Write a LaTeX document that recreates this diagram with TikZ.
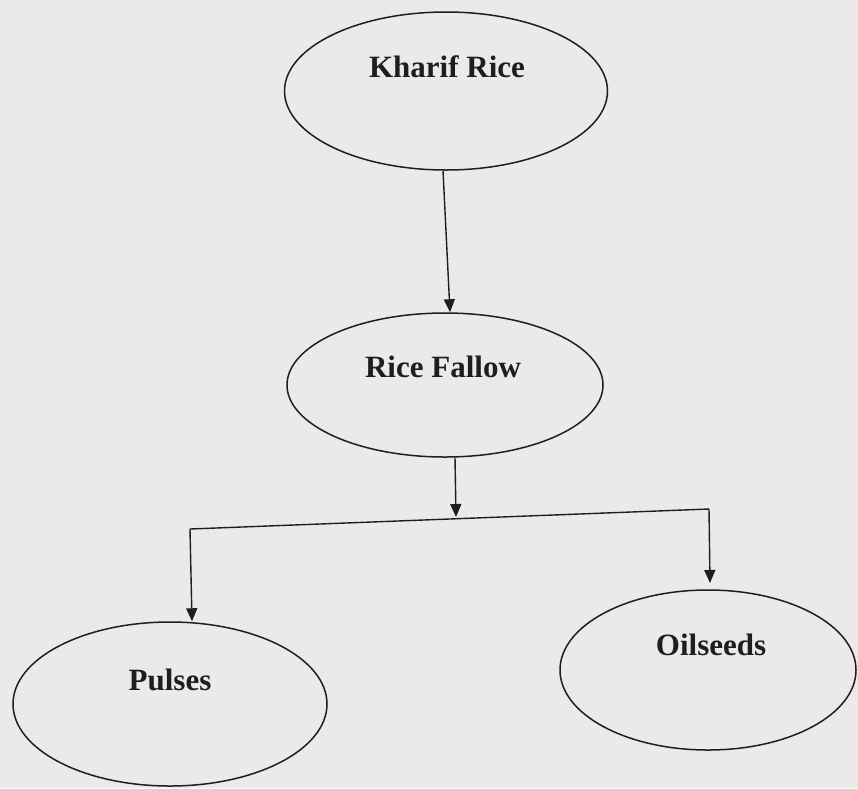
\documentclass[tikz,border=0pt]{standalone}
\usepackage{fontspec}
\setmainfont{Liberation Serif}
\usetikzlibrary{shapes.geometric,arrows.meta}
\definecolor{bgc}{HTML}{ECEAE8}
\definecolor{ink}{HTML}{1E1E1E}
\tikzset{
  oval/.style={draw=ink, line width=1.5pt, ellipse, inner sep=0pt},
  lbl/.style={anchor=base, inner sep=0pt, text=ink, font=\fontsize{31}{36}\selectfont\bfseries},
  conn/.style={draw=ink, line width=1.4pt},
  arr/.style={conn, -{Triangle[length=13pt,width=11pt]}}
}
\begin{document}
\begin{tikzpicture}[x=1pt,y=-1pt]
\fill[bgc] (0,0) rectangle (858,788);
\useasboundingbox (0,0) rectangle (858,788);
% ellipses
\node[oval, minimum width=323pt, minimum height=158pt] (K) at (446,91) {};
\node[oval, minimum width=316pt, minimum height=144pt] (RF) at (445,385) {};
\node[oval, minimum width=314pt, minimum height=164pt] (P) at (170,704) {};
\node[oval, minimum width=296pt, minimum height=160pt] (O) at (708,670) {};
% labels
\node[lbl] (tK) at (447,77) {Kharif Rice};
\node[lbl] (tRF) at (443,377) {Rice Fallow};
\node[lbl] (tP) at (170,690) {Pulses};
\node[lbl] (tO) at (711,655) {Oilseeds};
% junction coordinates
\coordinate (jL) at (190,529);
\coordinate (jR) at (709,509);
\coordinate (jM) at (456,517);
\coordinate (oTip) at (710,583);
% connectors
\draw[arr] ([xshift=-3pt]K.south) -- ([xshift=5pt]RF.north);
\draw[arr] ([xshift=10pt]RF.south) -- (jM);
\draw[conn] (jL) -- (jR);
\draw[arr] (jL) -- ([xshift=2pt]jL |- P.north);
\draw[arr] (jR) -- (oTip);
\end{tikzpicture}
\end{document}
